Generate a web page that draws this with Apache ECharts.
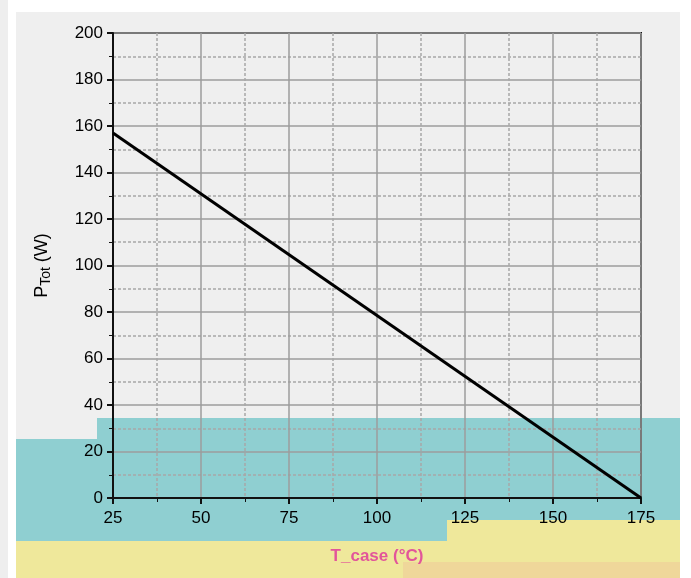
<!DOCTYPE html>
<html>
<head>
<meta charset="utf-8">
<script src="https://cdn.jsdelivr.net/npm/echarts@6/dist/echarts.min.js"></script>
<style>
html,body{margin:0;padding:0;background:#ffffff;}
#chart{position:absolute;left:0;top:0;width:691px;height:578px;}
</style>
</head>
<body>
<div id="chart"></div>
<script>
// Data
var tempC = [25, 175];          // x values (temperature)
var ptotW = [157, 0];           // total power (W)
var xMin = 25, xMax = 175, xStep = 25;
var yMin = 0, yMax = 200, yStep = 20;
var xName = 'T_case (°C)';

var chart = echarts.init(document.getElementById('chart'), null, {renderer: 'canvas'});

var lineData = tempC.map(function (t, i) { return [t, ptotW[i]]; });

var option = {
  animation: false,
  backgroundColor: 'transparent',
  graphic: [
    {type: 'rect', z: -20, silent: true, shape: {x: 0, y: 0, width: 8, height: 578}, style: {fill: '#eeeeee'}},
    {type: 'rect', z: -20, silent: true, shape: {x: 16, y: 12, width: 664, height: 566}, style: {fill: '#efefef'}},
    {type: 'rect', z: -19, silent: true, shape: {x: 16, y: 439, width: 664, height: 102}, style: {fill: '#8fcfd1'}},
    {type: 'rect', z: -19, silent: true, shape: {x: 97, y: 418, width: 583, height: 22}, style: {fill: '#8fcfd1'}},
    {type: 'rect', z: -19, silent: true, shape: {x: 16, y: 541, width: 664, height: 37}, style: {fill: '#efe89b'}},
    {type: 'rect', z: -19, silent: true, shape: {x: 447, y: 520, width: 233, height: 21}, style: {fill: '#efe89b'}},
    {type: 'rect', z: -19, silent: true, shape: {x: 403, y: 562, width: 277, height: 16}, style: {fill: '#efd79a'}}
  ],
  grid: {left: 113, right: 50, top: 33, bottom: 80, show: true, borderColor: '#111', borderWidth: 2, backgroundColor: 'transparent'},
  xAxis: {
    type: 'value', min: xMin, max: xMax, interval: xStep,
    name: xName, nameLocation: 'middle', nameGap: 50,
    nameTextStyle: {color: '#e2559a', fontSize: 17, fontFamily: 'Liberation Sans', fontWeight: 'bold'},
    axisLine: {show: true, lineStyle: {color: '#111', width: 2}},
    axisTick: {show: true, length: 6, inside: false, lineStyle: {color: '#111', width: 2}},
    minorTick: {show: true, splitNumber: 2, length: 4, lineStyle: {color: '#111', width: 1}},
    axisLabel: {color: '#000', fontSize: 17, fontFamily: 'Liberation Sans', margin: 12},
    splitLine: {show: true, lineStyle: {color: '#9c9c9c', width: 1.5}},
    minorSplitLine: {show: true, lineStyle: {color: '#a8a8a8', width: 1.5, type: [3, 2]}}
  },
  yAxis: {
    type: 'value', min: yMin, max: yMax, interval: yStep,
    name: '{p|P}{s|Tot}{p| (W)}', nameLocation: 'middle', nameGap: 60,
    nameTextStyle: {
      rich: {
        p: {fontSize: 18, color: '#000', fontFamily: 'Liberation Sans'},
        s: {fontSize: 14, color: '#000', fontFamily: 'Liberation Sans', verticalAlign: 'bottom', padding: [8, 0, 0, 0]}
      }
    },
    axisLine: {show: true, lineStyle: {color: '#111', width: 2}},
    axisTick: {show: true, length: 6, inside: false, lineStyle: {color: '#111', width: 2}},
    minorTick: {show: true, splitNumber: 2, length: 4, lineStyle: {color: '#111', width: 1}},
    axisLabel: {color: '#000', fontSize: 17, fontFamily: 'Liberation Sans', margin: 10},
    splitLine: {show: true, lineStyle: {color: '#9c9c9c', width: 1.5}},
    minorSplitLine: {show: true, lineStyle: {color: '#a8a8a8', width: 1.5, type: [3, 2]}}
  },
  series: [{
    type: 'line',
    data: lineData,
    symbol: 'none',
    lineStyle: {color: '#000', width: 3},
    z: 5
  }]
};
chart.setOption(option);
</script>
</body>
</html>
